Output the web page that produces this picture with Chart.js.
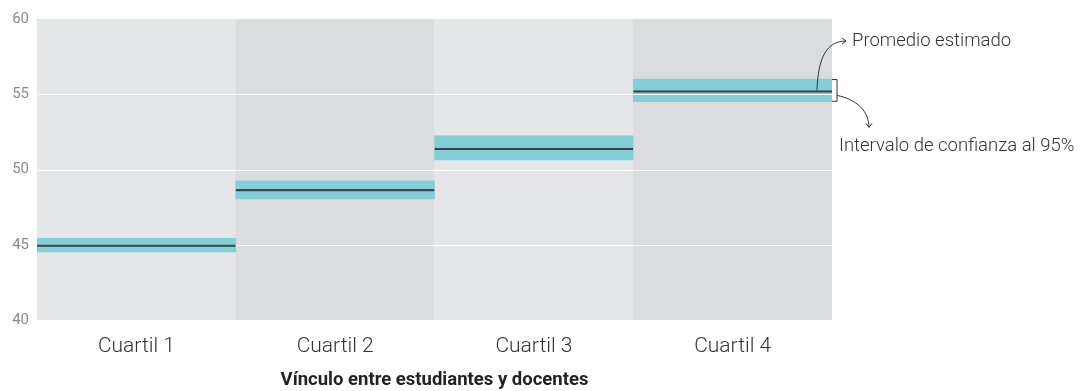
<!DOCTYPE html>
<html>
<head>
<meta charset="utf-8">
<script src="https://cdn.jsdelivr.net/npm/chart.js@4"></script>
<style>
  html, body { margin: 0; padding: 0; background: #fff; }
  #wrap { width: 1084px; height: 391px; }
</style>
</head>
<body>
<div id="wrap"><canvas id="chart"></canvas></div>
<script>
// data
const categories = ['Cuartil 1', 'Cuartil 2', 'Cuartil 3', 'Cuartil 4'];
const meanValues = [44.99, 48.68, 51.43, 55.24];
const ciLow = [44.52, 48.04, 50.63, 54.50];
const ciHigh = [45.43, 49.24, 52.23, 56.01];
const yTicks = [40, 45, 50, 55, 60];
const axisTitle = 'Vínculo entre estudiantes y docentes';
const meanNote = 'Promedio estimado';
const ciNote = 'Intervalo de confianza al 95%';

const bandColors = ['#e5e6e8', '#dbdcde', '#e5e6e8', '#dbdcde'];
const teal = '#84cfd7';
const dark = '#3d474b';
const FONT = 'Roboto, "Noto Sans", sans-serif';

const yMin = yTicks[0], yMax = yTicks[yTicks.length - 1];

// white grid lines go over the CI bars but under the mean line
const gridOverBars = {
  id: 'gridOverBars',
  afterDatasetDraw(chart, args) {
    if (args.index !== 1) return;
    const ctx = chart.ctx, y = chart.scales.y, area = chart.chartArea;
    ctx.save();
    ctx.strokeStyle = 'rgba(255,255,255,0.85)';
    ctx.lineWidth = 1;
    yTicks.forEach(v => {
      if (v === yMin || v === yMax) return;
      const py = Math.round(y.getPixelForValue(v)) + 0.5;
      ctx.beginPath();
      ctx.moveTo(area.left, py);
      ctx.lineTo(area.right, py);
      ctx.stroke();
    });
    ctx.restore();
  }
};

const arrowHead = (ctx, x, y, dir) => {
  ctx.beginPath();
  if (dir === 'right') {
    ctx.moveTo(x - 4, y - 3); ctx.lineTo(x, y); ctx.lineTo(x - 4, y + 3);
  } else {
    ctx.moveTo(x - 3, y - 4); ctx.lineTo(x, y); ctx.lineTo(x + 3, y - 4);
  }
  ctx.stroke();
};

// the two notes on the right, pinned to the last bar
const notes = {
  id: 'notes',
  afterDraw(chart) {
    const ctx = chart.ctx;
    const bar = chart.getDatasetMeta(1).data[3];
    const right = bar.x + bar.width / 2;
    const top = bar.y, bottom = bar.base;
    const meanY = chart.scales.y.getPixelForValue(meanValues[3]);

    ctx.save();
    ctx.strokeStyle = '#333';
    ctx.lineWidth = 1;

    // bracket round the interval
    ctx.beginPath();
    ctx.moveTo(right, top + 0.5);
    ctx.lineTo(right + 5, top + 0.5);
    ctx.lineTo(right + 5, bottom - 0.5);
    ctx.lineTo(right, bottom - 0.5);
    ctx.stroke();

    // arrow from the mean line up to its label
    const ax = right - 15;
    ctx.beginPath();
    ctx.moveTo(ax, meanY);
    ctx.bezierCurveTo(ax + 1, meanY - 32, ax + 9, top - 38, right + 14, top - 38);
    ctx.stroke();
    arrowHead(ctx, right + 14, top - 38, 'right');

    // arrow from the bracket down to its label
    const bx = right + 5, by = (top + bottom) / 2 + 5;
    ctx.beginPath();
    ctx.moveTo(bx, by);
    ctx.bezierCurveTo(bx + 20, by + 4, bx + 32, by + 16, bx + 32, by + 32);
    ctx.stroke();
    arrowHead(ctx, bx + 32, by + 32, 'down');

    ctx.fillStyle = '#333';
    ctx.font = '300 18.5px ' + FONT;
    ctx.textBaseline = 'middle';
    ctx.textAlign = 'left';
    ctx.fillText(meanNote, right + 20, top - 38);
    ctx.fillText(ciNote, right + 7, by + 51);
    ctx.restore();
  }
};

new Chart(document.getElementById('chart'), {
  type: 'bar',
  data: {
    labels: categories,
    datasets: [
      {
        // mean: floating bar whose top edge sits on the mean
        data: categories.map((c, i) => [ciLow[i], meanValues[i]]),
        backgroundColor: 'rgba(0,0,0,0)',
        borderColor: dark,
        borderWidth: { top: 1.6, bottom: 0, left: 0, right: 0 },
        borderSkipped: false,
        grouped: false,
        barPercentage: 1,
        categoryPercentage: 1,
        order: 1
      },
      {
        data: categories.map((c, i) => [ciLow[i], ciHigh[i]]),
        backgroundColor: teal,
        borderWidth: 0,
        grouped: false,
        barPercentage: 1,
        categoryPercentage: 1,
        order: 2
      },
      {
        // alternating bands behind each quartile
        data: categories.map(() => [yMin, yMax]),
        backgroundColor: bandColors,
        borderWidth: 0,
        grouped: false,
        barPercentage: 1,
        categoryPercentage: 1,
        order: 3
      }
    ]
  },
  options: {
    responsive: true,
    maintainAspectRatio: false,
    animation: false,
    layout: { padding: { top: 19, right: 252, left: 0, bottom: 0 } },
    plugins: { legend: { display: false }, tooltip: { enabled: false } },
    scales: {
      x: {
        grid: { display: false, drawTicks: false },
        border: { display: false },
        ticks: { color: '#333', font: { family: FONT, size: 21, weight: '300' }, padding: 14 },
        title: {
          display: true,
          text: axisTitle,
          color: '#222',
          font: { family: FONT, size: 18.5, weight: 'bold' },
          padding: { top: 8, bottom: 0 }
        },
        afterFit(s) { s.height = 71; }
      },
      y: {
        min: yMin,
        max: yMax,
        grid: { display: false, drawTicks: false },
        border: { display: false },
        ticks: {
          stepSize: 5,
          color: '#8a8a8a',
          font: { family: FONT, size: 15 },
          padding: 8
        },
        afterFit(s) { s.width = 37; }
      }
    }
  },
  plugins: [gridOverBars, notes]
});
</script>
</body>
</html>
